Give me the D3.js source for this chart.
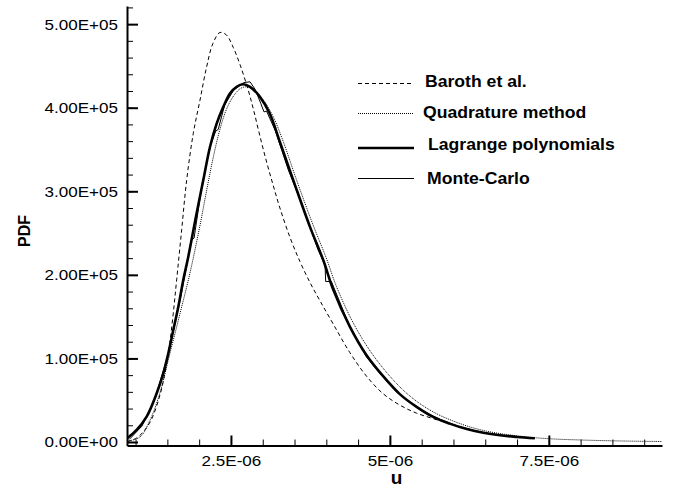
<!DOCTYPE html>
<html>
<head>
<meta charset="utf-8">
<script src="https://cdn.jsdelivr.net/npm/d3@7"></script>
<style>
  body { margin: 0; background: #fff; }
  svg { display: block; font-family: "Liberation Sans", Arial, Helvetica, sans-serif; }
</style>
</head>
<body>
<div id="chart"></div>
<script>
// u in units of 1e-6, PDF in units of 1e5
var baroth = [
  [0.865, 0.005], [1.0, 0.04], [1.12, 0.12], [1.25, 0.27], [1.39, 0.58], [1.46, 0.82],
  [1.53, 1.14], [1.59, 1.52], [1.646, 1.94], [1.725, 2.54], [1.803, 3.13], [1.907, 3.69],
  [2.013, 4.09], [2.118, 4.49], [2.217, 4.77], [2.327, 4.90], [2.43, 4.87], [2.537, 4.72],
  [2.65, 4.50], [2.772, 4.21], [2.86, 3.96], [2.956, 3.66], [3.061, 3.35], [3.165, 3.07],
  [3.27, 2.80], [3.428, 2.45], [3.585, 2.16], [3.742, 1.91], [3.90, 1.69], [4.11, 1.41],
  [4.37, 1.07], [4.63, 0.79], [4.89, 0.58], [5.16, 0.44], [5.42, 0.345], [5.68, 0.28],
  [5.94, 0.22], [6.21, 0.16], [6.5, 0.11], [7.0, 0.06], [7.3, 0.045]
];
var quadrature = [
  [0.865, 0.01], [1.07, 0.06], [1.226, 0.26], [1.38, 0.58], [1.54, 1.06], [1.70, 1.54],
  [1.855, 2.02], [2.01, 2.58], [2.11, 2.98], [2.22, 3.40], [2.33, 3.75], [2.44, 4.00],
  [2.55, 4.15], [2.65, 4.23], [2.75, 4.25], [2.86, 4.21], [3.00, 4.10], [3.16, 3.90],
  [3.32, 3.60], [3.53, 3.14], [3.79, 2.60], [4.00, 2.20], [4.16, 1.86], [4.42, 1.43],
  [4.68, 1.10], [4.94, 0.84], [5.21, 0.62], [5.47, 0.46], [5.73, 0.34], [6.0, 0.25],
  [6.26, 0.18], [6.52, 0.13], [6.78, 0.095], [7.04, 0.07], [7.3, 0.05], [7.6, 0.035],
  [8.0, 0.024], [8.5, 0.014], [9.0, 0.008], [9.28, 0.006]
];
var lagrange = [
  [0.865, 0.044], [1.017, 0.144], [1.174, 0.303], [1.332, 0.583], [1.436, 0.822],
  [1.515, 1.061], [1.593, 1.340], [1.672, 1.619], [1.750, 1.938], [1.829, 2.217],
  [1.96, 2.736], [2.065, 3.134], [2.17, 3.53], [2.275, 3.81], [2.38, 4.01], [2.484, 4.17],
  [2.59, 4.25], [2.69, 4.28], [2.80, 4.25], [2.956, 4.13], [3.11, 3.93], [3.27, 3.59],
  [3.48, 3.134], [3.74, 2.58], [3.95, 2.18], [4.11, 1.82], [4.37, 1.38], [4.63, 1.04],
  [4.89, 0.79], [5.16, 0.57], [5.42, 0.42], [5.68, 0.30], [5.94, 0.22], [6.21, 0.155],
  [6.47, 0.11], [6.73, 0.08], [7.0, 0.06], [7.28, 0.044]
];
var monteCarlo = [
  [0.90, 0.03], [1.10, 0.19], [1.30, 0.51], [1.50, 1.01], [1.70, 1.69], [1.88, 2.42],
  [1.92, 2.44], [2.05, 3.10], [2.18, 3.55], [2.26, 3.72], [2.30, 3.74], [2.40, 4.03],
  [2.55, 4.22], [2.70, 4.30], [2.80, 4.31], [2.88, 4.22], [2.97, 4.05], [3.02, 3.95],
  [3.06, 3.96], [3.20, 3.72], [3.40, 3.26], [3.55, 2.97], [3.70, 2.66], [3.87, 2.30],
  [3.98, 2.12], [3.99, 1.92], [4.08, 1.92], [4.37, 1.38], [4.63, 1.02], [4.82, 0.84],
  [5.10, 0.60], [5.40, 0.43], [5.57, 0.35], [5.79, 0.27], [6.10, 0.18], [6.47, 0.11],
  [6.80, 0.075], [7.28, 0.044]
];

var legendLabels = ["Baroth et al.", "Quadrature method", "Lagrange polynomials", "Monte-Carlo"];
var yMajorTicks = [0, 1e5, 2e5, 3e5, 4e5, 5e5];
var yTickLabels = ["0.00E+00", "1.00E+05", "2.00E+05", "3.00E+05", "4.00E+05", "5.00E+05"];
var xMajorTicks = [2.5e-6, 5e-6, 7.5e-6];
var xTickLabels = ["2.5E-06", "5E-06", "7.5E-06"];

var width = 673, height = 487;
var plotLeft = 127, plotRight = 662, plotTop = 6, plotBottom = 445.5;

var svg = d3.select("#chart").append("svg")
    .attr("width", width)
    .attr("height", height);

var x = d3.scaleLinear().domain([0.865e-6, 9.28e-6]).range([plotLeft, plotRight]);
var y = d3.scaleLinear().domain([-4200, 521700]).range([plotBottom, plotTop]);

// widen glyphs a little, the original font runs wider than Arial
var stretch = function(sel, k) {
    sel.each(function() {
        var w = this.getComputedTextLength();
        d3.select(this).attr("textLength", w * k).attr("lengthAdjust", "spacingAndGlyphs");
    });
};

// minor ticks
svg.append("g")
    .attr("transform", "translate(" + plotLeft + ",0)")
    .call(d3.axisLeft(y).tickValues(d3.range(0, 520001, 20000)).tickSizeInner(-6).tickSizeOuter(0).tickFormat(""))
    .call(g => g.select(".domain").remove())
    .call(g => g.selectAll("line").attr("stroke-width", 1));
svg.append("g")
    .attr("transform", "translate(0," + plotBottom + ")")
    .call(d3.axisBottom(x).tickValues(d3.range(1, 9.01, 0.5).map(v => v * 1e-6)).tickSizeInner(-6).tickSizeOuter(0).tickFormat(""))
    .call(g => g.select(".domain").remove())
    .call(g => g.selectAll("line").attr("stroke-width", 1));

// major ticks + axes
var yAxis = svg.append("g")
    .attr("transform", "translate(" + plotLeft + ",0)")
    .call(d3.axisLeft(y).tickValues(yMajorTicks).tickSizeInner(-11).tickSizeOuter(0).tickPadding(9)
        .tickFormat((d, i) => yTickLabels[i]));
yAxis.select(".domain").attr("stroke-width", 2);
yAxis.selectAll("line").attr("stroke-width", 2);
yAxis.selectAll("text").attr("font-size", 15.5).attr("fill", "#000").attr("font-family", null);
stretch(yAxis.selectAll("text"), 1.1);

var xAxis = svg.append("g")
    .attr("transform", "translate(0," + plotBottom + ")")
    .call(d3.axisBottom(x).tickValues(xMajorTicks).tickSizeInner(-10).tickSizeOuter(0).tickPadding(9)
        .tickFormat((d, i) => xTickLabels[i]));
xAxis.select(".domain").attr("stroke-width", 2);
xAxis.selectAll("line").attr("stroke-width", 2);
xAxis.selectAll("text").attr("font-size", 15.5).attr("fill", "#000").attr("font-family", null);
stretch(xAxis.selectAll("text"), 1.1);

// axis titles
svg.append("text")
    .attr("x", (plotLeft + plotRight) / 2 + 2)
    .attr("y", 484)
    .attr("text-anchor", "middle")
    .attr("font-weight", "bold")
    .attr("font-size", 19)
    .text("u");
svg.append("text")
    .attr("transform", "translate(30,231) rotate(-90)")
    .attr("text-anchor", "middle")
    .attr("font-weight", "bold")
    .attr("font-size", 16)
    .text("PDF");

// curves
svg.append("clipPath").attr("id", "plot-clip")
    .append("rect").attr("x", plotLeft).attr("y", plotTop)
    .attr("width", plotRight - plotLeft).attr("height", plotBottom - plotTop);

var smooth = d3.line().x(d => x(d[0] * 1e-6)).y(d => y(d[1] * 1e5)).curve(d3.curveCatmullRom.alpha(0.5));
var straight = d3.line().x(d => x(d[0] * 1e-6)).y(d => y(d[1] * 1e5));

var plot = svg.append("g").attr("clip-path", "url(#plot-clip)");
plot.append("path").datum(baroth)
    .attr("d", smooth).attr("fill", "none").attr("stroke", "#000")
    .attr("stroke-width", 1).attr("stroke-dasharray", "4,3");
plot.append("path").datum(quadrature)
    .attr("d", smooth).attr("fill", "none").attr("stroke", "#000")
    .attr("stroke-width", 1).attr("stroke-dasharray", "1,1");
plot.append("path").datum(monteCarlo)
    .attr("d", straight).attr("fill", "none").attr("stroke", "#000")
    .attr("stroke-width", 1);
plot.append("path").datum(lagrange)
    .attr("d", smooth).attr("fill", "none").attr("stroke", "#000")
    .attr("stroke-width", 2.6);

// legend
var legendStyles = [
    {dash: "4,3", w: 1, ly: 83.5, ty: 86.5, tx: 425},
    {dash: "1,1", w: 1, ly: 113.5, ty: 118, tx: 423},
    {dash: null, w: 2.6, ly: 148, ty: 149.5, tx: 428},
    {dash: null, w: 1, ly: 178.5, ty: 183.5, tx: 427}
];
var legend = svg.append("g").selectAll("g")
    .data(legendLabels)
    .enter().append("g");
legend.append("line")
    .attr("x1", 358).attr("x2", 414)
    .attr("y1", (d, i) => legendStyles[i].ly).attr("y2", (d, i) => legendStyles[i].ly)
    .attr("stroke", "#000")
    .attr("stroke-width", (d, i) => legendStyles[i].w)
    .attr("stroke-dasharray", (d, i) => legendStyles[i].dash);
var legendText = legend.append("text")
    .attr("x", (d, i) => legendStyles[i].tx)
    .attr("y", (d, i) => legendStyles[i].ty)
    .attr("font-size", 16)
    .attr("font-weight", "bold")
    .text(d => d);
stretch(legendText, 1.1);
</script>
</body>
</html>
